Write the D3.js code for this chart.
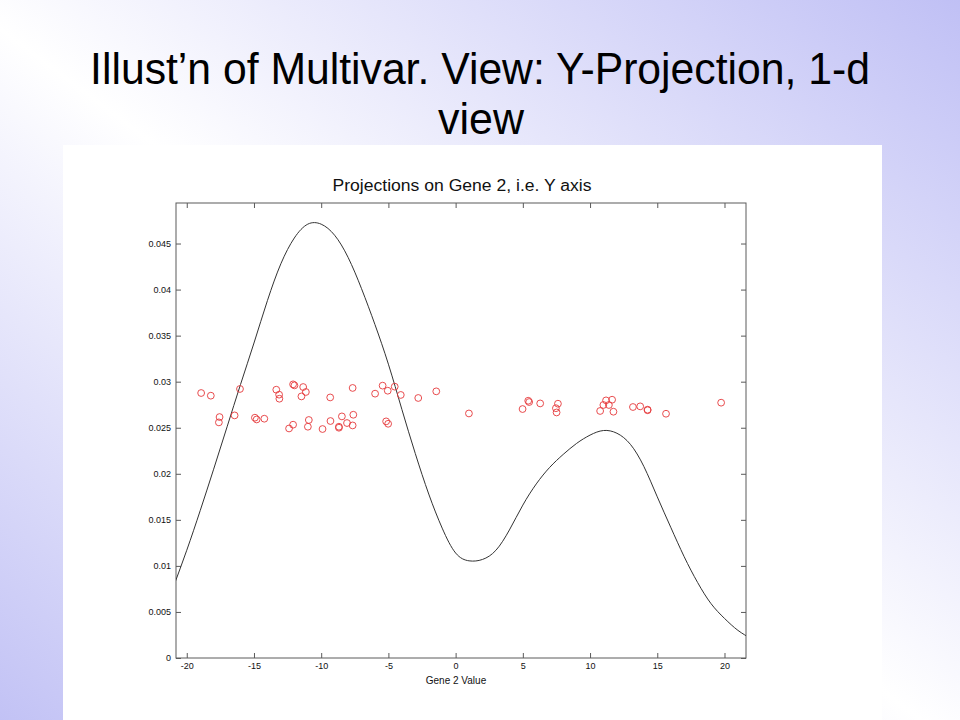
<!DOCTYPE html>
<html>
<head>
<meta charset="utf-8">
<script src="https://cdn.jsdelivr.net/npm/d3@7"></script>
<style>
html,body{margin:0;padding:0;background:#fff;}
svg{display:block;}
</style>
</head>
<body>
<svg id="chart" width="960" height="720"></svg>
<script>
// ---- data ----
const slideTitle1 = "Illust\u2019n of Multivar. View: Y-Projection, 1-d";
const slideTitle2 = "view";
const chartTitle = "Projections on Gene 2, i.e. Y axis";
const xLabel = "Gene 2 Value";

const xTicks = [-20, -15, -10, -5, 0, 5, 10, 15, 20];
const yTicks = [0, 0.005, 0.01, 0.015, 0.02, 0.025, 0.03, 0.035, 0.04, 0.045];
const yTickLabels = ["0", "0.005", "0.01", "0.015", "0.02", "0.025", "0.03", "0.035", "0.04", "0.045"];

// density curve read at each unit of Gene 2 value
const curveX = [-21, -20, -19, -18, -17, -16, -15, -14, -13, -12, -11, -10, -9, -8, -7, -6, -5, -4, -3, -2, -1, 0, 1, 2, 3, 4, 5, 6, 7, 8, 9, 10, 11, 12, 13, 14, 15, 16, 17, 18, 19, 20, 21, 22];
const curveY = [0.0077, 0.0117, 0.0160, 0.0205, 0.0251, 0.0297, 0.0342, 0.0388, 0.0428, 0.0456, 0.0471, 0.0471, 0.0459, 0.0435, 0.0401, 0.0362, 0.0319, 0.0270, 0.0222, 0.0178, 0.0141, 0.0114, 0.01055, 0.0107, 0.0117, 0.0139, 0.0166, 0.0189, 0.0207, 0.0221, 0.0233, 0.0242, 0.0247, 0.0244, 0.0232, 0.0208, 0.0175, 0.0142, 0.0110, 0.0082, 0.0059, 0.0043, 0.0030, 0.0021];

// projected data points (gene 2 value, jittered height)
const pointX = [-18.93, -18.21, -16.04, -17.56, -17.61, -16.44, -14.93, -14.80, -14.23, -13.34, -13.13, -13.11, -12.09, -11.99, -11.34, -11.14, -11.47, -9.33, -7.66, -12.09, -12.39, -10.92, -10.99, -9.90, -9.31, -8.68, -8.68, -8.46, -8.08, -7.66, -7.61, -5.99, -5.43, -5.05, -4.53, -4.08, -2.78, -1.44, -5.17, -5.02, 0.99, 5.40, 5.47, 4.98, 6.29, 7.61, 7.46, 7.51, 11.19, 11.64, 10.99, 11.40, 10.75, 11.74, 13.19, 13.73, 14.28, 14.28, 15.65, 19.75];
const pointY = [0.02877, 0.02848, 0.02921, 0.02616, 0.02558, 0.02634, 0.02609, 0.02590, 0.02598, 0.02913, 0.02859, 0.02815, 0.02971, 0.02960, 0.02942, 0.02888, 0.02840, 0.02829, 0.02932, 0.02533, 0.02492, 0.02584, 0.02511, 0.02486, 0.02573, 0.02511, 0.02500, 0.02623, 0.02551, 0.02525, 0.02641, 0.02870, 0.02957, 0.02902, 0.02946, 0.02856, 0.02823, 0.02895, 0.02569, 0.02543, 0.02655, 0.02793, 0.02779, 0.02703, 0.02764, 0.02761, 0.02712, 0.02666, 0.02797, 0.02804, 0.02747, 0.02747, 0.02682, 0.02674, 0.02725, 0.02732, 0.02696, 0.02690, 0.02652, 0.02772];

// ---- drawing ----
const svg = d3.select("#chart");
const W = 960, H = 720;

// slide background gradient
const defs = svg.append("defs");
const grad = defs.append("linearGradient").attr("id", "bg")
  .attr("x1", 0).attr("y1", 1).attr("x2", 1).attr("y2", 0);
grad.append("stop").attr("offset", "0%").attr("stop-color", "#c2c2f5");
grad.append("stop").attr("offset", "48%").attr("stop-color", "#ffffff");
grad.append("stop").attr("offset", "100%").attr("stop-color", "#c0c0f5");
svg.append("rect").attr("width", W).attr("height", H).attr("fill", "url(#bg)");

// slide title: narrow font, horizontally fitted to the reference width
const titleFont = "'Liberation Sans Narrow', 'Arial Narrow', 'Liberation Sans', Arial, sans-serif";
function fittedTitle(str, cx, baseY, width) {
  const g = svg.append("g");
  const t = g.append("text").attr("x", 0).attr("y", 0)
    .attr("text-anchor", "middle").attr("font-family", titleFont)
    .attr("font-size", 44).attr("fill", "#000").text(str);
  const w = t.node().getComputedTextLength() || width;
  g.attr("transform", `translate(${cx},${baseY}) scale(${width / w},1)`);
}
fittedTitle(slideTitle1, 480, 84, 780);
fittedTitle(slideTitle2, 481, 134, 86);

// white figure panel
svg.append("rect").attr("x", 63).attr("y", 145).attr("width", 819).attr("height", 575).attr("fill", "#fff");

const pL = 176, pR = 746, pT = 203, pB = 658;
const x = d3.scaleLinear().domain([-20.8, 21.6]).range([pL, pR]);
const y = d3.scaleLinear().domain([0, 0.0494]).range([pB, pT]);

const axisColor = "#5a5a5a";
const font = "'Liberation Sans', Arial, Helvetica, sans-serif";

function styleAxis(g) {
  g.select(".domain").remove();
  g.selectAll(".tick line").attr("stroke", axisColor);
  g.selectAll(".tick text").attr("fill", "#111").attr("font-family", font).attr("font-size", 9);
}

svg.append("g").attr("transform", `translate(0,${pB})`)
  .call(d3.axisBottom(x).tickValues(xTicks).tickSizeInner(-5).tickSizeOuter(0).tickPadding(5).tickFormat(d => String(d)))
  .call(styleAxis);
svg.append("g").attr("transform", `translate(0,${pT})`)
  .call(d3.axisTop(x).tickValues(xTicks).tickSizeInner(-5).tickSizeOuter(0).tickFormat(""))
  .call(styleAxis);
svg.append("g").attr("transform", `translate(${pL},0)`)
  .call(d3.axisLeft(y).tickValues(yTicks).tickSizeInner(-5).tickSizeOuter(0).tickPadding(5).tickFormat((d, i) => yTickLabels[i]))
  .call(styleAxis);
svg.append("g").attr("transform", `translate(${pR},0)`)
  .call(d3.axisRight(y).tickValues(yTicks).tickSizeInner(-5).tickSizeOuter(0).tickFormat(""))
  .call(styleAxis);

svg.append("rect").attr("x", pL).attr("y", pT).attr("width", pR - pL).attr("height", pB - pT)
  .attr("fill", "none").attr("stroke", axisColor).attr("stroke-width", 1);

// density curve
const curveData = curveX.map((v, i) => [v, curveY[i]]);
const clip = defs.append("clipPath").attr("id", "plotclip");
clip.append("rect").attr("x", pL).attr("y", pT).attr("width", pR - pL).attr("height", pB - pT);
svg.append("path").datum(curveData)
  .attr("clip-path", "url(#plotclip)")
  .attr("fill", "none").attr("stroke", "#333").attr("stroke-width", 1)
  .attr("d", d3.line().x(d => x(d[0])).y(d => y(d[1])).curve(d3.curveNatural));

// points
const pts = pointX.map((v, i) => [v, pointY[i]]);
svg.append("g").selectAll("circle").data(pts).join("circle")
  .attr("cx", d => x(d[0])).attr("cy", d => y(d[1])).attr("r", 3.4)
  .attr("fill", "none").attr("stroke", "#e5393b").attr("stroke-width", 0.9);

// chart title and x label
svg.append("text").attr("x", 462).attr("y", 191).attr("text-anchor", "middle")
  .attr("font-family", font).attr("font-size", 16).attr("fill", "#111")
  .attr("textLength", 259).attr("lengthAdjust", "spacingAndGlyphs")
  .text(chartTitle);
svg.append("text").attr("x", 456).attr("y", 684).attr("text-anchor", "middle")
  .attr("font-family", font).attr("font-size", 10).attr("fill", "#111")
  .text(xLabel);
</script>
</body>
</html>
